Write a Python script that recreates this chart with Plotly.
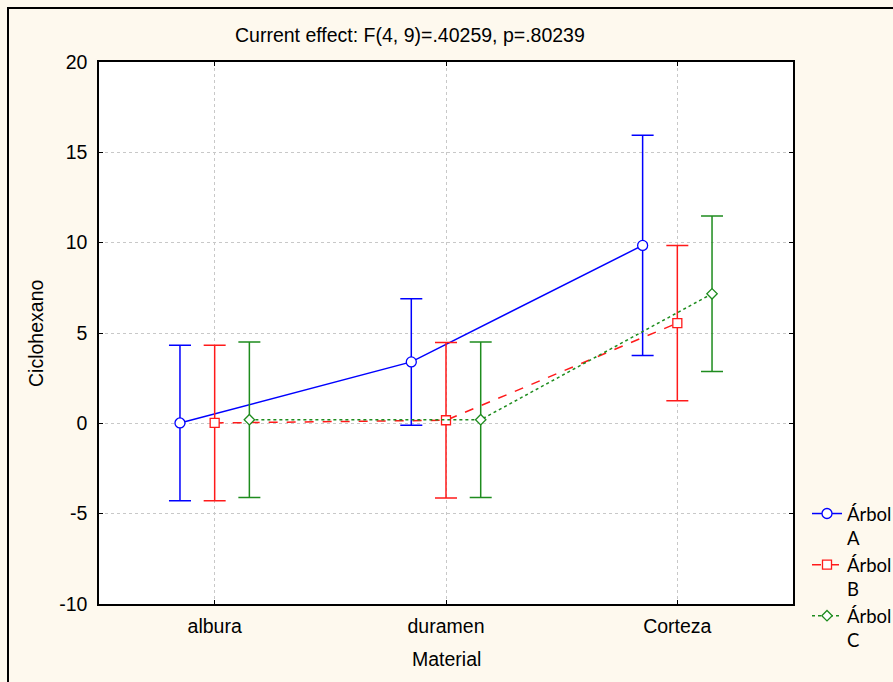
import plotly.graph_objects as go

categories = ["albura", "duramen", "Corteza"]
series_names = ["Árbol<br>A", "Árbol<br>B", "Árbol<br>C"]
means_A = [0.02, 3.40, 9.85]
err_A = [4.30, 3.50, 6.09]
means_B = [0.02, 0.17, 5.55]
err_B = [4.30, 4.30, 4.30]
means_C = [0.20, 0.20, 7.17]
err_C = [4.30, 4.30, 4.30]
y_ticks = [-10, -5, 0, 5, 10, 15, 20]
y_tick_labels = ["-10", "-5", "0", "5", "10", "15", "20"]

title_text = "Current effect: F(4, 9)=.40259, p=.80239"

styles = [
    dict(color="#0000FF", dash="solid", symbol="circle", size=10, offset=-0.15),
    dict(color="#FF1A1A", dash="dash", symbol="square", size=9, offset=0.0),
    dict(color="#1E8C1E", dash="dot", symbol="diamond", size=8, offset=0.15),
]

fig = go.Figure()
for k, (name, m, e, st) in enumerate(zip(series_names, [means_A, means_B, means_C], [err_A, err_B, err_C], styles)):
    xs = [i + st["offset"] for i in range(len(categories))]
    fig.add_trace(go.Scatter(
        x=xs, y=m, name=name, mode="lines+markers", legendgroup=f"g{k}",
        line=dict(color=st["color"], dash=st["dash"], width=1.5),
        marker=dict(symbol=st["symbol"], size=st["size"], color="white",
                    line=dict(color=st["color"], width=1.3)),
        error_y=dict(type="data", array=e, visible=True, color=st["color"],
                     thickness=1.5, width=11),
    ))

W, H = 893, 682
L, R, T, B = 99, 793, 62, 604
def px(x):
    return (x - L) / (R - L)
def py(y):
    return (B - y) / (B - T)

FS = 19.5

fig.update_layout(
    width=W, height=H,
    margin=dict(l=L, r=W - R, t=T, b=H - B, pad=0, autoexpand=False),
    paper_bgcolor="#FEF9EE",
    plot_bgcolor="white",
    font=dict(family="Liberation Sans, Arial, sans-serif", size=FS, color="black"),
    showlegend=True,
    legend=dict(x=px(807), y=py(495), xanchor="left", yanchor="top", valign="top",
                bgcolor="rgba(0,0,0,0)", font=dict(family="Lato, sans-serif", size=18.5),
                tracegroupgap=0, itemwidth=30),
    xaxis=dict(range=[-0.5, 2.5], tickvals=list(range(len(categories))), ticktext=categories,
               showline=True, linecolor="black", linewidth=1.5, mirror="allticks",
               ticks="inside", ticklen=4, tickcolor="black", ticklabelstandoff=4,
               showgrid=True, gridcolor="#c8c8c8", griddash="dot", gridwidth=1,
               zeroline=False, tickfont=dict(size=FS)),
    yaxis=dict(range=[-10, 20], tickvals=y_ticks, ticktext=y_tick_labels,
               showline=True, linecolor="black", linewidth=1.5, mirror="allticks",
               ticks="inside", ticklen=4, tickcolor="black", ticklabelstandoff=6,
               showgrid=True, gridcolor="#c8c8c8", griddash="dot", gridwidth=1,
               zeroline=False, tickfont=dict(size=FS)),
    annotations=[
        dict(text=title_text, xref="paper", yref="paper", x=px(410), y=py(35),
             xanchor="center", yanchor="middle", showarrow=False, font=dict(size=FS)),
        dict(text="Ciclohexano", xref="paper", yref="paper", x=px(36), y=py(334),
             xanchor="center", yanchor="middle", showarrow=False, textangle=-90, font=dict(size=FS)),
        dict(text="Material", xref="paper", yref="paper", x=px(446), y=py(659),
             xanchor="center", yanchor="middle", showarrow=False, font=dict(size=FS)),
    ],
    shapes=[
        dict(type="rect", xref="paper", yref="paper", x0=px(8), y0=py(8), x1=px(905), y1=py(700),
             line=dict(color="black", width=2), fillcolor="rgba(0,0,0,0)", layer="below"),
    ],
)

fig.write_html("out.html", config={"displayModeBar": False},
               post_script="document.body.style.margin='0';document.body.style.overflow='hidden';")
